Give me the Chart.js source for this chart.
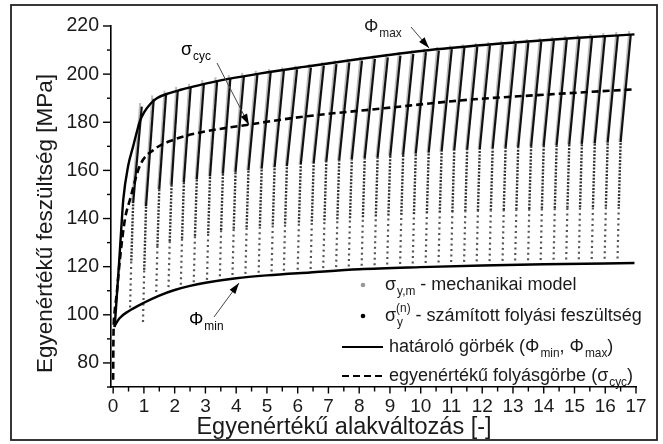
<!DOCTYPE html>
<html>
<head>
<meta charset="utf-8">
<script src="https://cdn.jsdelivr.net/npm/chart.js@4.4.1/dist/chart.umd.min.js"></script>
<style>
  html, body { margin: 0; padding: 0; background: #fff; }
  #wrap { width: 663px; height: 444px; }
</style>
</head>
<body>
<div id="wrap"><canvas id="chart" width="663" height="444"></canvas></div>
<script>
const FONT = '"Liberation Sans", Arial, sans-serif';

// burkoló görbék (Φmax, Φmin) és ciklikus folyásgörbe
const phiMaxX = [0.05, 0.12, 0.19, 0.26, 0.33, 0.49, 0.65, 0.87, 1.0, 1.2, 1.42, 1.8, 2.2, 2.6, 3.2, 3.7, 4.8, 6.2, 8.0, 10.3, 12.5, 15.0, 16.95];
const phiMaxY = [95, 108, 121, 135, 148, 162, 170, 180.5, 184, 187.5, 190, 192, 193.5, 194.8, 196.6, 197.9, 200.3, 203, 206.3, 210.0, 212.6, 215.0, 216.5];
const phiMinX = [0.03, 0.2, 0.5, 1.0, 1.5, 2.0, 2.5, 3.0, 4.0, 5.0, 6.4, 8.0, 10.0, 12.0, 14.0, 16.95];
const phiMinY = [95, 98.5, 101.5, 105, 108, 110.3, 112, 113.3, 115.2, 116.4, 117.6, 118.9, 119.8, 120.5, 121, 121.5];
const sigmaCycX = [0.0, 0.01, 0.04, 0.11, 0.22, 0.38, 0.55, 0.87, 1.31, 1.96, 2.73, 4.4, 6.1, 8.8, 11.5, 14.2, 16.95];
const sigmaCycY = [73, 91, 100, 108, 123, 139.5, 148, 162, 168.5, 172.7, 175.5, 179, 182.2, 185.8, 189.3, 191.6, 193.7];

// terhelési ciklusok: alsó pont és felső pont
const cycleStartX = [0.55, 0.97, 1.40, 1.80, 2.20, 2.62, 3.05, 3.47, 3.88, 4.30, 4.73, 5.15, 5.55, 6.00, 6.42, 6.83, 7.25, 7.66, 8.08, 8.50,
  8.91, 9.33, 9.74, 10.16, 10.58, 10.99, 11.41, 11.82, 12.24, 12.66, 13.07, 13.49, 13.90, 14.32, 14.73, 15.14, 15.56, 15.98, 16.40];
const cycleEndX = [0.93, 1.32, 1.72, 2.10, 2.52, 2.95, 3.38, 3.81, 4.25, 4.69, 5.12, 5.55, 5.98, 6.43, 6.85, 7.26, 7.68, 8.09, 8.51, 8.93,
  9.34, 9.76, 10.17, 10.59, 11.01, 11.42, 11.84, 12.25, 12.67, 13.09, 13.50, 13.92, 14.33, 14.75, 15.16, 15.57, 15.99, 16.41, 16.83];
const cycleBottomY = [103, 97, 109.5, 111.5, 112.5, 113.5, 114.5, 116, 116.5, 117, 117.5, 118, 118.3, 118.7, 119, 119.4, 119.8, 120.1, 120.4, 120.6,
  120.9, 121.1, 121.3, 121.5, 121.7, 121.9, 122.0, 122.2, 122.3, 122.4, 122.6, 122.7, 122.8, 122.9, 123.0, 123.1, 123.2, 123.3, 123.4];
const cycleTopY = [186.5, 189.7, 191.6, 193.2, 194.5, 196, 197.2, 198.1, 199, 199.9, 200.6, 201.3, 202, 202.7, 203.5, 204.2, 204.9, 205.6, 206.3, 207,
  207.7, 208.4, 209.1, 209.8, 210.4, 210.9, 211.4, 211.9, 212.3, 212.7, 213.1, 213.5, 214, 214.4, 214.8, 215.2, 215.6, 216, 216.4];

const xTicks = [0, 1, 2, 3, 4, 5, 6, 7, 8, 9, 10, 11, 12, 13, 14, 15, 16, 17];
const yTicks = [80, 100, 120, 140, 160, 180, 200, 220];

const legendRows = [
  { kind: 'grayDot', parts: [{ t: 'σ' }, { sub: 'y,m' }, { t: ' - mechanikai model' }] },
  { kind: 'blackDot', parts: [{ t: 'σ' }, { sup: '(n)', sub: 'y' }, { t: ' - számított folyási feszültség' }] },
  { kind: 'solid', parts: [{ t: 'határoló görbék (Φ' }, { sub: 'min' }, { t: ', Φ' }, { sub: 'max' }, { t: ')' }] },
  { kind: 'dashed', parts: [{ t: 'egyenértékű folyásgörbe (σ' }, { sub: 'cyc' }, { t: ')' }] }
];

const zip = (xs, ys) => xs.map((x, i) => ({ x: x, y: ys[i] }));

const datasets = [
  { data: zip(phiMaxX, phiMaxY), borderColor: '#000', borderWidth: 2.4, order: 0, cubicInterpolationMode: 'monotone' },
  { data: zip(phiMinX, phiMinY), borderColor: '#000', borderWidth: 2.4, order: 0, cubicInterpolationMode: 'monotone' },
  { data: zip(sigmaCycX, sigmaCycY), borderColor: '#000', borderWidth: 2.6, borderDash: [7, 4], order: 0, cubicInterpolationMode: 'monotone' }
];

cycleStartX.forEach((x0, i) => {
  const x1 = cycleEndX[i], yb = cycleBottomY[i], yt = cycleTopY[i];
  const yk = yb + 0.52 * (yt - yb);
  const xk = x0 + 0.1;
  const ym = yb + 0.45 * (yk - yb);
  // pontozott alsó szakasz (ritkább az alján)
  datasets.push({ data: [{ x: x0, y: yb }, { x: x0 + 0.04, y: ym }], borderColor: '#555', borderWidth: 2.2, borderDash: [2, 3.5], order: 2 });
  datasets.push({ data: [{ x: x0 + 0.04, y: ym }, { x: xk, y: yk }], borderColor: '#333', borderWidth: 2.4, borderDash: [2, 1.4], order: 2 });
  // fekete felső szakasz
  datasets.push({ data: [{ x: xk, y: yk }, { x: x1, y: yt }], borderColor: '#111', borderWidth: 2.2, order: 1 });
  // szürke mechanikai modell
  datasets.push({ data: [{ x: xk - 0.04, y: yk }, { x: x1 - 0.05, y: yt + 1.5 }], borderColor: '#bdbdbd', borderWidth: 2, order: 3 });
});

datasets.forEach(d => { d.showLine = true; d.pointRadius = 0; d.fill = false; });

function drawRich(ctx, x, y, parts, size) {
  let cx = x;
  parts.forEach(p => {
    if (p.t !== undefined) {
      ctx.font = size + 'px ' + FONT;
      ctx.fillText(p.t, cx, y);
      cx += ctx.measureText(p.t).width;
    } else {
      ctx.font = (size * 0.66) + 'px ' + FONT;
      let w = 0;
      if (p.sup) { ctx.fillText(p.sup, cx, y - size * 0.42); w = ctx.measureText(p.sup).width; }
      if (p.sub) { ctx.fillText(p.sub, cx + 1, y + size * 0.38); w = Math.max(w, ctx.measureText(p.sub).width + 1); }
      cx += w;
    }
  });
  return cx;
}

function arrow(ctx, x0, y0, x1, y1) {
  ctx.strokeStyle = '#444';
  ctx.lineWidth = 1;
  ctx.beginPath(); ctx.moveTo(x0, y0); ctx.lineTo(x1, y1); ctx.stroke();
  const a = Math.atan2(y1 - y0, x1 - x0);
  ctx.fillStyle = '#000';
  ctx.beginPath();
  ctx.moveTo(x1, y1);
  ctx.lineTo(x1 - 11 * Math.cos(a) + 3.5 * Math.sin(a), y1 - 11 * Math.sin(a) - 3.5 * Math.cos(a));
  ctx.lineTo(x1 - 11 * Math.cos(a) - 3.5 * Math.sin(a), y1 - 11 * Math.sin(a) + 3.5 * Math.cos(a));
  ctx.closePath(); ctx.fill();
}

const decor = {
  id: 'decor',
  afterDraw(chart) {
    const ctx = chart.ctx, xs = chart.scales.x, ys = chart.scales.y;
    const a = chart.chartArea;
    ctx.save();
    ctx.strokeStyle = '#000';
    ctx.lineWidth = 1.4;
    // osztások
    for (let v = 0; v <= 17; v += 0.5) {
      const px = xs.getPixelForValue(v);
      const len = Number.isInteger(v) ? 6.5 : 4.5;
      ctx.beginPath(); ctx.moveTo(px, a.bottom); ctx.lineTo(px, a.bottom + len); ctx.stroke();
    }
    for (let v = 70; v <= 220; v += 10) {
      const py = ys.getPixelForValue(v);
      const len = v % 20 === 0 ? 8 : 4;
      ctx.beginPath(); ctx.moveTo(a.left, py); ctx.lineTo(a.left - len, py); ctx.stroke();
    }
    // tengelyfeliratok
    ctx.fillStyle = '#1a1a1a';
    ctx.textAlign = 'center';
    ctx.textBaseline = 'middle';
    ctx.font = '23.5px ' + FONT;
    ctx.fillText('Egyenértékű alakváltozás [-]', 344, 427.5);
    ctx.save();
    ctx.translate(45.5, 223.5);
    ctx.rotate(-Math.PI / 2);
    ctx.font = '22.5px ' + FONT;
    ctx.fillText('Egyenértékű feszültség [MPa]', 0, 0);
    ctx.restore();

    // jelölések nyilakkal
    ctx.textAlign = 'left';
    ctx.fillStyle = '#222';
    drawRich(ctx, 364, 27, [{ t: 'Φ' }, { sub: 'max' }], 18);
    arrow(ctx, 411, 27, 429, 48);
    drawRich(ctx, 181, 50, [{ t: 'σ' }, { sub: 'cyc' }], 18);
    arrow(ctx, 217, 63, 249, 125);
    drawRich(ctx, 189, 320, [{ t: 'Φ' }, { sub: 'min' }], 18);
    arrow(ctx, 214, 317, 239, 283);

    // jelmagyarázat
    const rowY = [285, 316, 347, 376];
    legendRows.forEach((r, i) => {
      const y = rowY[i];
      if (r.kind === 'grayDot' || r.kind === 'blackDot') {
        ctx.fillStyle = r.kind === 'grayDot' ? '#999' : '#000';
        ctx.beginPath(); ctx.arc(363, y, 2.3, 0, Math.PI * 2); ctx.fill();
      } else {
        ctx.strokeStyle = '#000';
        ctx.lineWidth = 2.2;
        ctx.setLineDash(r.kind === 'dashed' ? [7, 4] : []);
        ctx.beginPath(); ctx.moveTo(342, y); ctx.lineTo(383, y); ctx.stroke();
        ctx.setLineDash([]);
      }
      ctx.fillStyle = '#1a1a1a';
      drawRich(ctx, r.kind === 'solid' || r.kind === 'dashed' ? 389 : 385, y, r.parts, 18);
    });

    // keret
    ctx.strokeStyle = '#222';
    ctx.lineWidth = 1.8;
    ctx.strokeRect(11, 5, 646, 435);
    ctx.restore();
  }
};

new Chart(document.getElementById('chart'), {
  type: 'scatter',
  data: { datasets: datasets },
  options: {
    responsive: false,
    animation: false,
    layout: { padding: { left: 0, right: 27, top: 26, bottom: 0 } },
    plugins: { legend: { display: false }, tooltip: { enabled: false } },
    scales: {
      x: {
        type: 'linear', min: -0.07, max: 17,
        afterBuildTicks: s => { s.ticks = xTicks.map(v => ({ value: v })); },
        afterFit: s => { s.height = 57; },
        grid: { display: false, drawTicks: false },
        border: { color: '#000', width: 1.6 },
        ticks: { color: '#1a1a1a', padding: 8, maxRotation: 0, autoSkip: false, font: { family: FONT, size: 19 } }
      },
      y: {
        type: 'linear', min: 70, max: 220,
        afterBuildTicks: s => { s.ticks = yTicks.map(v => ({ value: v })); },
        afterFit: s => { s.width = 111; },
        grid: { display: false, drawTicks: false },
        border: { color: '#000', width: 1.6 },
        ticks: { color: '#1a1a1a', padding: 12, font: { family: FONT, size: 19.5 } }
      }
    }
  },
  plugins: [decor]
});
</script>
</body>
</html>
